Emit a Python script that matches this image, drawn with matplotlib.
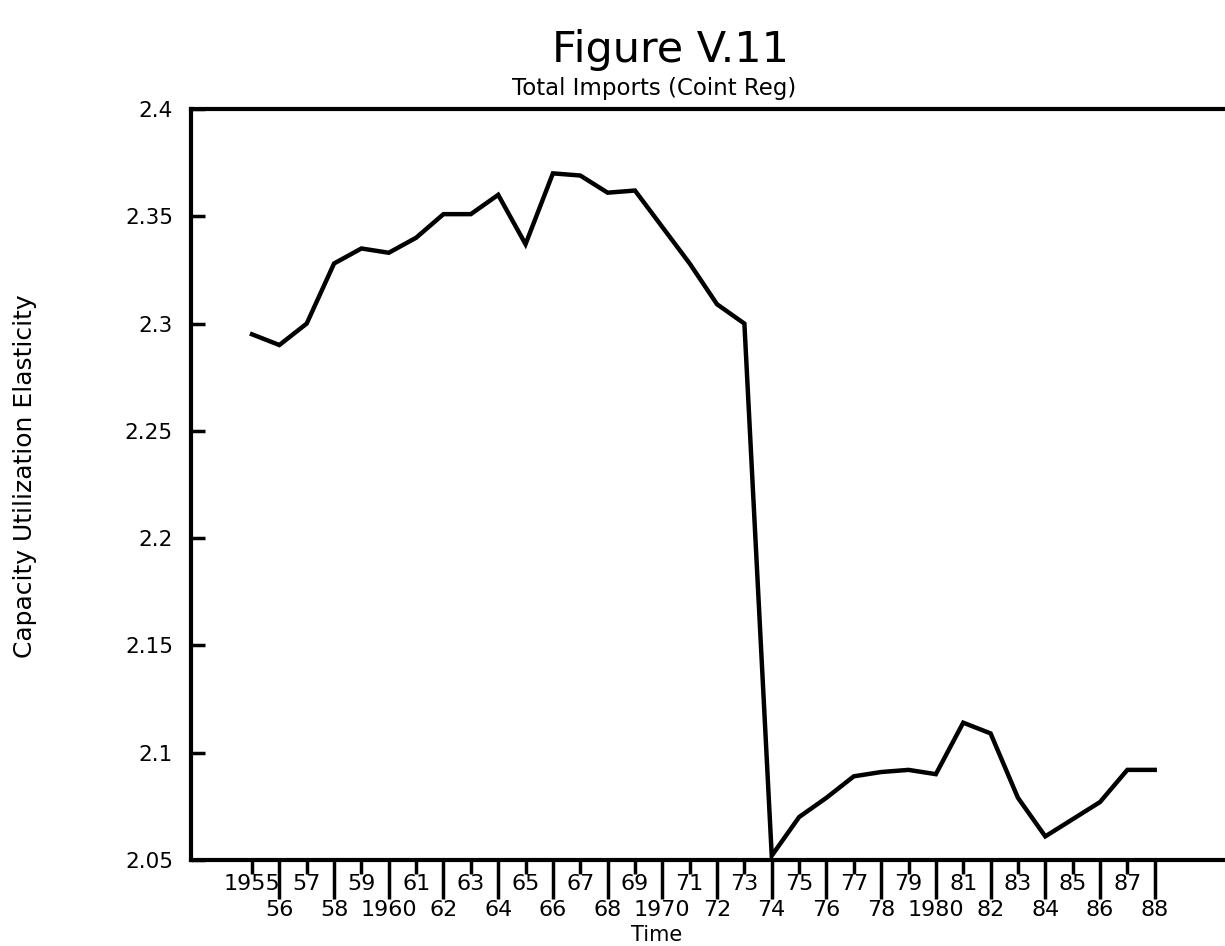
import matplotlib
matplotlib.use("Agg")
import matplotlib.pyplot as plt
from matplotlib.ticker import FixedLocator, FixedFormatter

# ---- data ----
years = list(range(1955, 1989))
elasticity = [2.295, 2.290, 2.300, 2.328, 2.335, 2.333, 2.340, 2.351, 2.351, 2.360,
              2.337, 2.370, 2.369, 2.361, 2.362, 2.345, 2.328, 2.309, 2.300, 2.052,
              2.070, 2.079, 2.089, 2.091, 2.092, 2.090, 2.114, 2.109, 2.079, 2.061,
              2.069, 2.077, 2.092, 2.092]

y_ticks = [2.05, 2.1, 2.15, 2.2, 2.25, 2.3, 2.35, 2.4]
y_tick_labels = ["2.05", "2.1", "2.15", "2.2", "2.25", "2.3", "2.35", "2.4"]

odd_years = [y for y in years if y % 2 == 1]
even_years = [y for y in years if y % 2 == 0]
odd_labels = ["1955", "57", "59", "61", "63", "65", "67", "69", "71", "73",
              "75", "77", "79", "81", "83", "85", "87"]
even_labels = ["56", "58", "1960", "62", "64", "66", "68", "1970", "72", "74",
               "76", "78", "1980", "82", "84", "86", "88"]

title = "Figure V.11"
subtitle = "Total Imports (Coint Reg)"
xlabel = "Time"
ylabel = "Capacity Utilization Elasticity"

# ---- figure ----
W, H = 1225, 946
fig = plt.figure(figsize=(W / 100, H / 100), dpi=100)
fig.patch.set_facecolor("white")

left_px, right_px, top_px, bottom_px = 191, 1225, 109, 860
ax = fig.add_axes([left_px / W, 1 - bottom_px / H,
                   (right_px - left_px) / W, (bottom_px - top_px) / H])

ax.plot(years, elasticity, color="black", linewidth=3.2, solid_joinstyle="miter")

ax.set_xlim(1952.77, 1990.57)
ax.set_ylim(2.05, 2.4)

for s in ["left", "top", "bottom"]:
    ax.spines[s].set_linewidth(3.0)
    ax.spines[s].set_color("black")
ax.spines["right"].set_visible(False)

# y axis
ax.yaxis.set_major_locator(FixedLocator(y_ticks))
ax.yaxis.set_major_formatter(FixedFormatter(y_tick_labels))
ax.tick_params(axis="y", direction="in", length=10, width=2.5, pad=13,
               labelsize=15.5)

# x axis: even years long ticks (major), odd years short ticks (minor)
ax.xaxis.set_major_locator(FixedLocator(even_years))
ax.xaxis.set_major_formatter(FixedFormatter(even_labels))
ax.xaxis.set_minor_locator(FixedLocator(odd_years))
ax.xaxis.set_minor_formatter(FixedFormatter(odd_labels))
ax.tick_params(axis="x", which="major", direction="out", length=28, width=2.5,
               pad=1, labelsize=16)
ax.tick_params(axis="x", which="minor", direction="out", length=10, width=2.5,
               pad=0, labelsize=16)

# titles and labels
fig.text(670 / W, 1 - 62 / H, title, ha="center", va="baseline", fontsize=31)
fig.text(654 / W, 1 - 88 / H, subtitle, ha="center", va="center", fontsize=16.5)
fig.text(657 / W, 1 - 935 / H, xlabel, ha="center", va="center", fontsize=15)
fig.text(25 / W, 1 - 476 / H, ylabel, ha="center", va="center", rotation=90,
         fontsize=18)

fig.savefig("out.png", dpi=100, facecolor="white")
